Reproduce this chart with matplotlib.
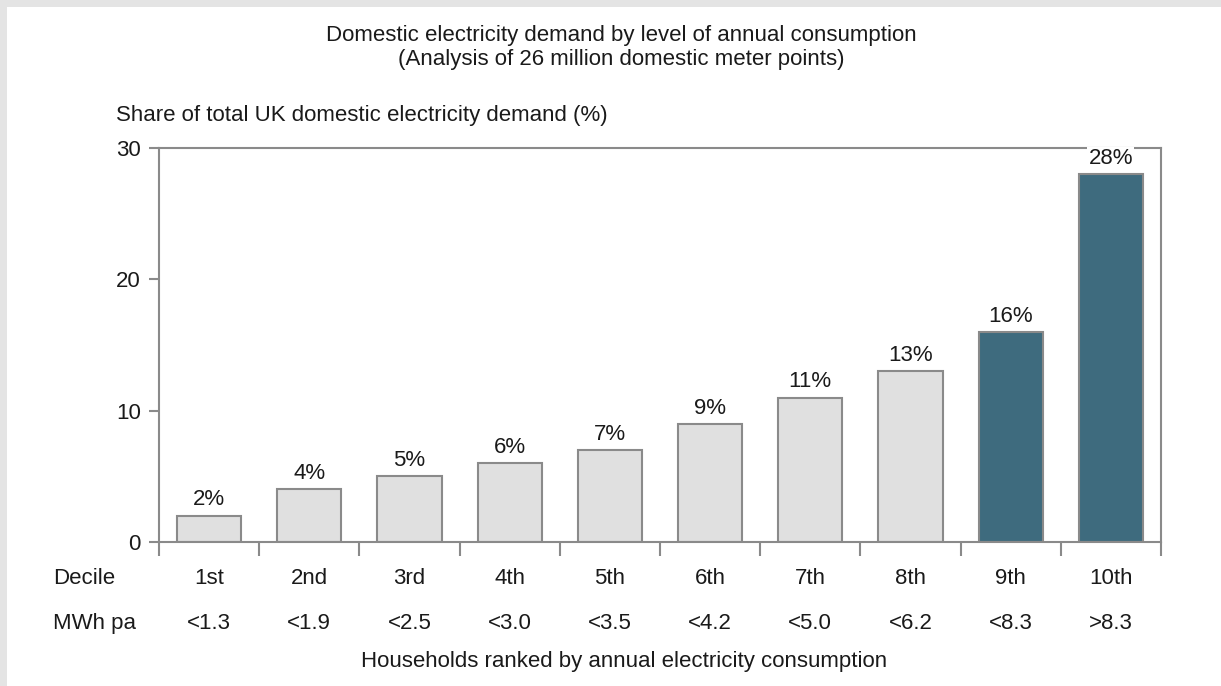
import matplotlib.pyplot as plt
from matplotlib.patches import Rectangle

plt.rcParams['font.family'] = ['Liberation Sans', 'DejaVu Sans']

deciles = ['1st', '2nd', '3rd', '4th', '5th', '6th', '7th', '8th', '9th', '10th']
mwh = ['<1.3', '<1.9', '<2.5', '<3.0', '<3.5', '<4.2', '<5.0', '<6.2', '<8.3', '>8.3']
share = [2, 4, 5, 6, 7, 9, 11, 13, 16, 28]
highlight = [False] * 8 + [True] * 2

light = '#e0e0e0'
dark = '#3e6b7e'
edge = '#8a8a8a'
txt = '#1a1a1a'
fs = 16

fig = plt.figure(figsize=(12.21, 6.86), dpi=100)
fig.patch.set_facecolor('#e4e4e4')
fig.patches.append(Rectangle((7 / 1221, 0), 1, 1 - 7 / 686, transform=fig.transFigure,
                             facecolor='white', edgecolor='none', zorder=-10))

ax = fig.add_axes([159 / 1221, 1 - 542 / 686, 1002 / 1221, 394 / 686])
ax.set_zorder(2)
ax.set_facecolor('none')

x = range(len(share))
colors = [dark if h else light for h in highlight]
ax.bar(x, share, width=0.64, color=colors, edgecolor=edge, linewidth=1.5, zorder=2)

for i, v in enumerate(share):
    bb = dict(facecolor='white', edgecolor='none', pad=1) if v == 28 else None
    ax.text(i, v + 0.4, f'{v}%', ha='center', va='bottom', fontsize=fs,
            color=txt, bbox=bb, zorder=4)

ax.set_xlim(-0.5, len(share) - 0.5)
ax.set_ylim(0, 30)
ax.set_yticks([0, 10, 20, 30])
ax.set_xticks([i - 0.5 for i in range(len(share) + 1)])
ax.set_xticklabels([])
ax.tick_params(axis='x', direction='out', length=10, width=1.5, color=edge)
ax.tick_params(axis='y', direction='out', length=7, width=1.5, color=edge,
               labelsize=fs, labelcolor=txt, pad=6)
for s in ax.spines.values():
    s.set_color(edge)
    s.set_linewidth(1.5)
    s.set_zorder(3)

# category rows under the axis
tr = ax.get_xaxis_transform()
for i, (d, m) in enumerate(zip(deciles, mwh)):
    ax.text(i, -0.0914, d, transform=tr, ha='center', va='center', fontsize=fs, color=txt)
    ax.text(i, -0.208, m, transform=tr, ha='center', va='center', fontsize=fs, color=txt)
ax.text(-0.106, -0.0914, 'Decile', transform=ax.transAxes, ha='left', va='center',
        fontsize=fs, color=txt)
ax.text(-0.106, -0.208, 'MWh pa', transform=ax.transAxes, ha='left', va='center',
        fontsize=fs, color=txt)

fig.text(624 / 1221, 1 - 662 / 686, 'Households ranked by annual electricity consumption',
         ha='center', va='center', fontsize=fs, color=txt)
fig.text(116 / 1221, 1 - 115 / 686, 'Share of total UK domestic electricity demand (%)',
         ha='left', va='center', fontsize=fs, color=txt)
fig.text(621 / 1221, 1 - 36 / 686, 'Domestic electricity demand by level of annual consumption',
         ha='center', va='center', fontsize=fs, color=txt)
fig.text(621 / 1221, 1 - 60 / 686, '(Analysis of 26 million domestic meter points)',
         ha='center', va='center', fontsize=fs, color=txt)

fig.savefig('out.png', dpi=100)
